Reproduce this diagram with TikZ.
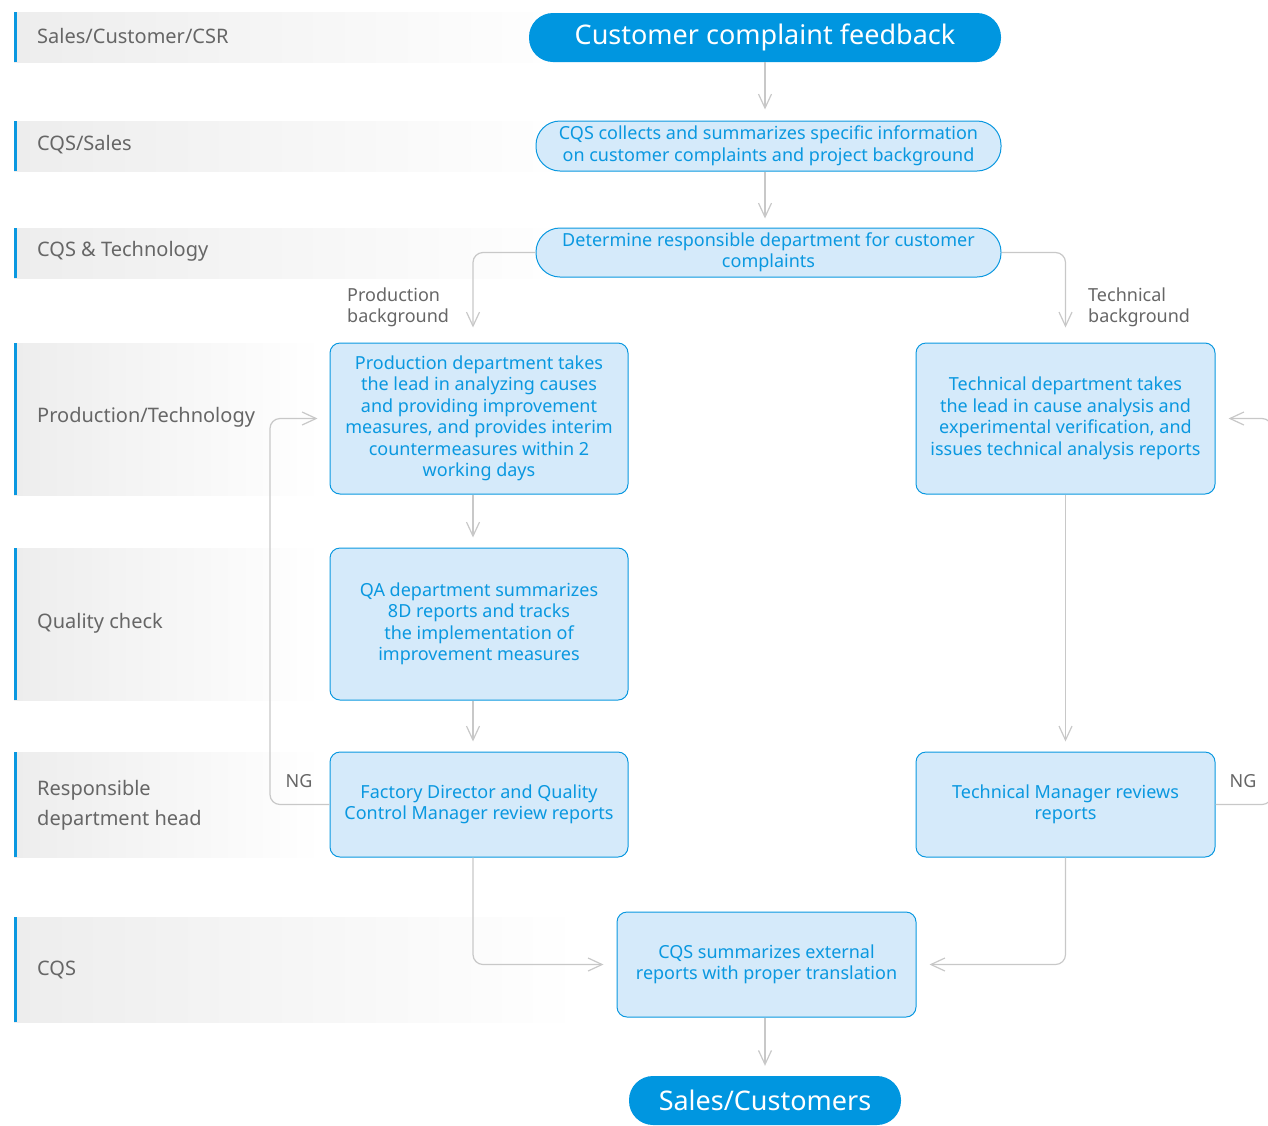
\documentclass[tikz,border=0pt]{standalone}
\usepackage{fontspec}
\setmainfont{Noto Sans}
\usetikzlibrary{arrows.meta}
\definecolor{mblue}{HTML}{0A98E0}
\definecolor{dblue}{HTML}{0096E0}
\definecolor{lfill}{HTML}{D5EAFA}
\definecolor{lgray}{HTML}{C8C8C8}
\definecolor{ltext}{HTML}{666666}
\definecolor{lanegray}{HTML}{EDEDED}
\tikzset{
  lane/.style={left color=lanegray, right color=white, draw=none},
  lanebar/.style={fill=mblue, draw=none},
  lanelabel/.style={anchor=west, text=ltext, font=\fontsize{20}{30}\selectfont, align=left, inner sep=0},
  pill/.style={rounded corners=24pt, draw=mblue, line width=1pt, fill=lfill, text=mblue,
    font=\fontsize{18}{21.5}\selectfont, align=center, inner sep=0},
  bigpill/.style={rounded corners=24pt, draw=none, fill=dblue, text=white,
    font=\fontsize{27}{30}\selectfont, inner sep=0},
  stepbox/.style={rounded corners=10pt, draw=mblue, line width=1pt, fill=lfill, text=mblue,
    font=\fontsize{18}{21.5}\selectfont, align=center, inner sep=0},
  flow/.style={draw=lgray, line width=1.2pt, rounded corners=10pt,
    -{Straight Barb[length=14pt,width=13pt,line width=1.2pt]}},
  sidelabel/.style={text=ltext, font=\fontsize{18}{21}\selectfont, align=left, inner sep=0},
}
\begin{document}
\begin{tikzpicture}[x=1pt,y=-1pt]
\useasboundingbox (0,0) rectangle (1268,1125);
\clip (0,0) rectangle (1268,1125);
% lanes
\fill[lane] (14,12) rectangle (580,62);
\fill[lane] (14,121) rectangle (580,171);
\fill[lane] (14,228) rectangle (580,278);
\fill[lane] (14,343) rectangle (322,495);
\fill[lane] (14,548) rectangle (322,700);
\fill[lane] (14,752) rectangle (322,857);
\fill[lane] (14,917) rectangle (580,1022);
\fill[lanebar] (14,12) rectangle (17,62);
\fill[lanebar] (14,121) rectangle (17,171);
\fill[lanebar] (14,228) rectangle (17,278);
\fill[lanebar] (14,343) rectangle (17,495);
\fill[lanebar] (14,548) rectangle (17,700);
\fill[lanebar] (14,752) rectangle (17,857);
\fill[lanebar] (14,917) rectangle (17,1022);
\node[lanelabel] (l1) at (37,36) {Sales/Customer/CSR};
\node[lanelabel] (l2) at (37,145) {CQS/Sales};
\node[lanelabel] (l3) at (37,251) {CQS \& Technology};
\node[lanelabel] (l4) at (37,417) {Production/Technology};
\node[lanelabel] (l5) at (37,623) {Quality check};
\node[lanelabel] (l6) at (37,805) {Responsible\\department head};
\node[lanelabel] (l7) at (37,970) {CQS};
% nodes
\node[bigpill, minimum width=472pt, minimum height=49pt] (top) at (765,37.5) {Customer complaint feedback};
\node[pill, minimum width=465pt, minimum height=50pt] (cqs1) at (768.5,146) {CQS collects and summarizes specific information\\on customer complaints and project background};
\node[pill, minimum width=465pt, minimum height=49pt] (det) at (768.5,252.5) {Determine responsible department for customer\\complaints};
\node[stepbox, minimum width=298pt, minimum height=151pt] (prod) at (479,418.5) {Production department takes\\the lead in analyzing causes\\and providing improvement\\measures, and provides interim\\countermeasures within 2\\working days};
\node[stepbox, minimum width=299pt, minimum height=151pt] (tech) at (1065.5,418.5) {Technical department takes\\the lead in cause analysis and\\experimental verification, and\\issues technical analysis reports};
\node[stepbox, minimum width=298pt, minimum height=152pt] (qa) at (479,624) {QA department summarizes\\8D reports and tracks\\the implementation of\\improvement measures};
\node[stepbox, minimum width=298pt, minimum height=105pt] (fac) at (479,804.5) {Factory Director and Quality\\Control Manager review reports};
\node[stepbox, minimum width=299pt, minimum height=105pt] (tm) at (1065.5,804.5) {Technical Manager reviews\\reports};
\node[stepbox, minimum width=299pt, minimum height=105pt] (sum) at (766.5,964.5) {CQS summarizes external\\reports with proper translation};
\node[bigpill, minimum width=272pt, minimum height=49pt] (sales) at (765,1100.5) {Sales/Customers};
% labels
\node[sidelabel, anchor=west] (pb) at (347,307.5) {Production\\background};
\node[sidelabel, anchor=west] (tb) at (1088,307.5) {Technical\\background};
\node[sidelabel] (ng1) at (299,781) {NG};
\node[sidelabel] (ng2) at (1243,781) {NG};
% helper columns
\coordinate (colL) at (473,0);
\coordinate (ngL) at (270,0);
\coordinate (ngR) at (1272,0);
% connectors
\draw[flow, shorten >=11pt] (top.south) -- (cqs1.north -| top.south);
\draw[flow, shorten >=9pt] (cqs1.south -| top.south) -- (det.north -| top.south);
\draw[flow, shorten >=15pt] (det.west) -| (prod.north -| colL);
\draw[flow, shorten >=15pt] (det.east) -| (tech.north);
\draw[flow, shorten >=10pt] (prod.south -| colL) -- (qa.north -| colL);
\draw[flow, shorten >=10pt] (qa.south -| colL) -- (fac.north -| colL);
\draw[flow, shorten >=12pt] (fac.west) -- (fac.west -| ngL) -- (prod.west -| ngL) -- (prod.west);
\draw[flow, shorten >=10pt] (tech.south) -- (tm.north);
\draw[flow, shorten >=13pt] (tm.east) -- (tm.east -| ngR) -- (tech.east -| ngR) -- (tech.east);
\draw[flow, shorten >=13pt] (fac.south -| colL) |- (sum.west);
\draw[flow, shorten >=13pt] (tm.south) |- (sum.east);
\draw[flow, shorten >=10pt] (sum.south -| top.south) -- (sales.north -| top.south);
\end{tikzpicture}
\end{document}
